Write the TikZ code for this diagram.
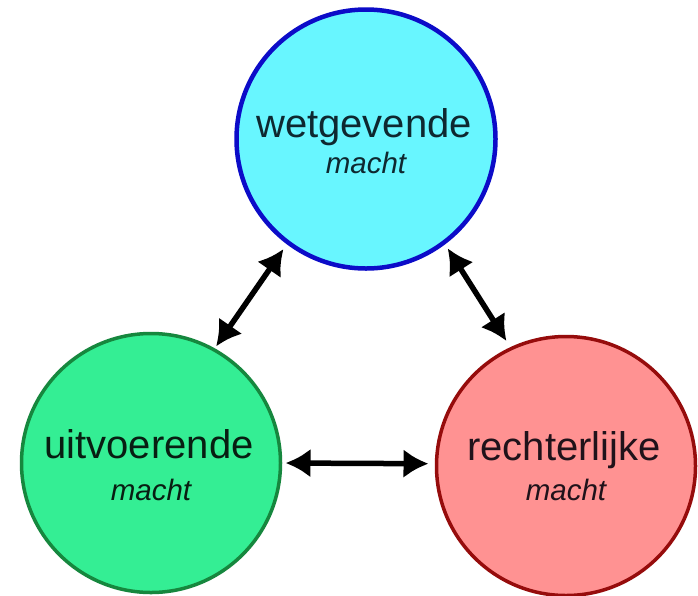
\documentclass[tikz,border=0pt]{standalone}
\usepackage{fontspec}
\setmainfont{Liberation Sans}
\usetikzlibrary{arrows.meta}
\definecolor{cyanfill}{RGB}{104,246,255}
\definecolor{blueline}{RGB}{12,12,200}
\definecolor{greenfill}{RGB}{52,238,148}
\definecolor{greenline}{RGB}{22,135,62}
\definecolor{redfill}{RGB}{255,146,146}
\definecolor{redline}{RGB}{150,12,12}
\definecolor{txttop}{RGB}{14,40,48}
\definecolor{txtleft}{RGB}{8,30,18}
\definecolor{txtright}{RGB}{32,18,26}
\tikzset{
  power/.style={circle, inner sep=0pt, outer sep=0pt, minimum size=259pt},
  mainlbl/.style={anchor=base, inner sep=0pt, font=\fontsize{40}{48}\selectfont},
  sublbl/.style={anchor=base, inner sep=0pt, font=\fontsize{29.5}{34}\selectfont\itshape},
  link/.style={line width=5.5pt, {Latex[length=25pt,width=29pt]}-{Latex[length=25pt,width=29pt]}}
}
\begin{document}
\begin{tikzpicture}[x=1pt,y=1pt]
\useasboundingbox (0,0) rectangle (698,-595);
\fill[white] (0,0) rectangle (698,-595);
\node[power, fill=cyanfill, draw=blueline, line width=4.5pt] (top) at (366,-139) {};
\node[power, fill=greenfill, draw=greenline, line width=3.5pt] (left) at (151,-463) {};
\node[power, fill=redfill, draw=redline, line width=3.5pt] (right) at (566,-466) {};
\node[mainlbl, text=txttop] (t1) at (364,-137) {wetgevende};
\node[sublbl, text=txttop] (t2) at (366,-173) {macht};
\node[mainlbl, text=txtleft] (l1) at (149,-458) {uitvoerende};
\node[sublbl, text=txtleft] (l2) at (151,-500) {macht};
\node[mainlbl, text=txtright] (r1) at (564,-460) {rechterlijke};
\node[sublbl, text=txtright] (r2) at (566,-500) {macht};
\draw[link, shorten <=4pt, shorten >=8pt] (left.61) -- (top.233);
\draw[link, shorten <=7pt, shorten >=9pt] (top.307) -- (right.115);
\draw[link, shorten <=5pt, shorten >=8pt] (left.0) -- (right.179);
\end{tikzpicture}
\end{document}
